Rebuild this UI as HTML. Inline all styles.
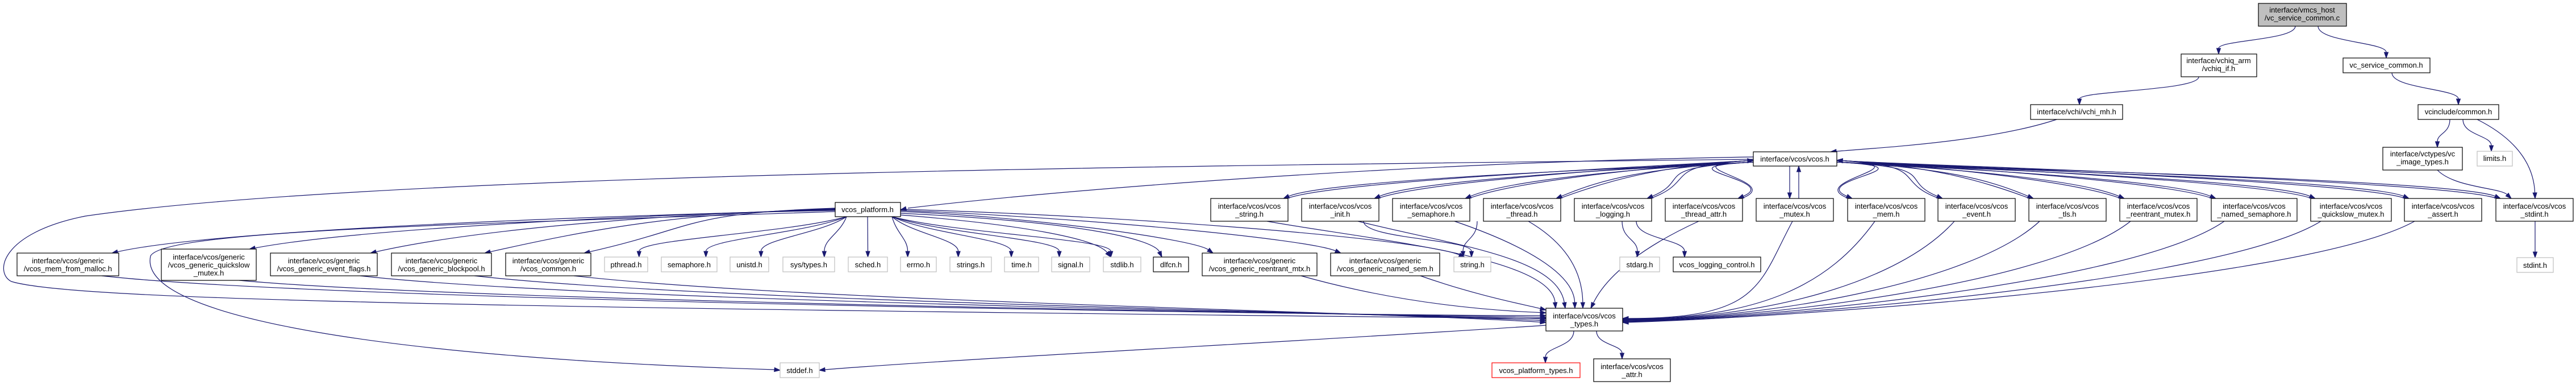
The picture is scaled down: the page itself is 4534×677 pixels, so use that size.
<!DOCTYPE html>
<html><head><meta charset="utf-8"><style>
html,body{margin:0;padding:0;background:#fff;width:4534px;height:677px;overflow:hidden}
svg text{font-family:"Liberation Sans",Arial,sans-serif;font-size:13px;fill:#000;text-anchor:middle}
</style></head><body>
<svg id="g" width="4534" height="677" viewBox="0 0 4534 677" xmlns="http://www.w3.org/2000/svg">
<g id="edges" fill="none" stroke="#191970" stroke-width="1.2"></g>
<g id="heads" fill="#191970" stroke="#191970"></g>
<g id="nodes" stroke-width="1.2">
<rect x="3975" y="6" width="155" height="40" fill="#bfbfbf" stroke="#000"/><text x="4052" y="22">interface/vmcs_host</text><text x="4052" y="36">/vc_service_common.c</text>
<rect x="3839" y="95" width="133" height="40" fill="#fff" stroke="#000"/><text x="3905" y="111">interface/vchiq_arm</text><text x="3905" y="125">/vchiq_if.h</text>
<rect x="4124" y="102" width="153" height="26" fill="#fff" stroke="#000"/><text x="4200" y="119">vc_service_common.h</text>
<rect x="3574" y="184" width="162" height="26" fill="#fff" stroke="#000"/><text x="3655" y="201">interface/vchi/vchi_mh.h</text>
<rect x="4256" y="184" width="142" height="26" fill="#fff" stroke="#000"/><text x="4327" y="201">vcinclude/common.h</text>
<rect x="3086" y="267" width="147" height="25" fill="#fff" stroke="#000"/><text x="3159" y="284">interface/vcos/vcos.h</text>
<rect x="4194" y="259" width="140" height="40" fill="#fff" stroke="#000"/><text x="4264" y="275">interface/vctypes/vc</text><text x="4264" y="289">_image_types.h</text>
<rect x="4360" y="266" width="62" height="26" fill="#fff" stroke="#bfbfbf"/><text x="4391" y="283">limits.h</text>
<rect x="1470" y="356" width="115" height="25" fill="#fff" stroke="#000"/><text x="1527" y="373">vcos_platform.h</text>
</g>
</svg>
<script>
var NS="http://www.w3.org/2000/svg";
var nodes=document.getElementById('nodes'),edges=document.getElementById('edges'),heads=document.getElementById('heads');
function box(x,y,w,h,lines,stroke){var r=document.createElementNS(NS,'rect');r.setAttribute('x',x);r.setAttribute('y',y);r.setAttribute('width',w);r.setAttribute('height',h);r.setAttribute('fill','#fff');r.setAttribute('stroke',stroke||'#000');nodes.appendChild(r);
var n=lines.length;var y0=y+h/2-(n-1)*7+5;for(var i=0;i<n;i++){var t=document.createElementNS(NS,'text');t.setAttribute('x',x+w/2);t.setAttribute('y',y0+i*14);t.textContent=lines[i];nodes.appendChild(t);}}
function cub(x1,y1,a,b,c,d,x2,y2){var dx=x2-c,dy=y2-d,L=Math.hypot(dx,dy)||1,ux=dx/L,uy=dy/L;var bx=x2-10*ux,by=y2-10*uy;
var p=document.createElementNS(NS,'path');p.setAttribute('d','M'+x1+','+y1+' C'+a+','+b+' '+c+','+d+' '+bx+','+by);edges.appendChild(p);
var q=document.createElementNS(NS,'polygon');q.setAttribute('points',x2+','+y2+' '+(bx-3.5*uy)+','+(by+3.5*ux)+' '+(bx+3.5*uy)+','+(by-3.5*ux));heads.appendChild(q);}
function v(x1,y1,x2,y2){var m=(y2-y1)/2;cub(x1,y1,x1,y1+m,x2,y2-m,x2,y2);}
function raw(d,x2,y2,c,dd){var p=document.createElementNS(NS,'path');p.setAttribute('d',d);edges.appendChild(p);var dx=x2-c,dy=y2-dd,L=Math.hypot(dx,dy),ux=dx/L,uy=dy/L,bx=x2-10*ux,by=y2-10*uy;var q=document.createElementNS(NS,'polygon');q.setAttribute('points',x2+','+y2+' '+(bx-3.5*uy)+','+(by+3.5*ux)+' '+(bx+3.5*uy)+','+(by-3.5*ux));heads.appendChild(q);}
// row2 vcos_* headers
var r2=[[2131,'_string.h'],[2291,'_init.h'],[2451,'_semaphore.h'],[2611,'_thread.h'],[2771,'_logging.h'],[2931,'_thread_attr.h'],[3091,'_mutex.h'],[3252,'_mem.h'],[3411,'_event.h'],[3571,'_tls.h'],[3731,'_reentrant_mutex.h'],[3892,'_named_semaphore.h',151],[4067,'_quickslow_mutex.h',142],[4232,'_assert.h'],[4393,'_stdint.h']];
r2.forEach(function(r){box(r[0],349,r[2]||136,40,['interface/vcos/vcos',r[1]]);});
// row3
box(30,445,179,40,['interface/vcos/generic','/vcos_mem_from_malloc.h']);
box(284,438,167,55,['interface/vcos/generic','/vcos_generic_quickslow','_mutex.h']);
box(476,445,188,40,['interface/vcos/generic','/vcos_generic_event_flags.h']);
box(689,445,176,40,['interface/vcos/generic','/vcos_generic_blockpool.h']);
box(890,445,150,40,['interface/vcos/generic','/vcos_common.h']);
var sys=[[1064,76,'pthread.h'],[1164,98,'semaphore.h'],[1285,68,'unistd.h'],[1378,91,'sys/types.h'],[1493,69,'sched.h'],[1585,63,'errno.h'],[1672,73,'strings.h'],[1768,60,'time.h'],[1851,67,'signal.h'],[1942,66,'stdlib.h']];
sys.forEach(function(s){box(s[0],452,s[1],26,[s[2]],'#bfbfbf');});
box(2030,452,62,26,['dlfcn.h']);
box(2116,445,202,40,['interface/vcos/generic','/vcos_generic_reentrant_mtx.h']);
box(2342,445,192,40,['interface/vcos/generic','/vcos_generic_named_sem.h']);
box(2559,452,65,26,['string.h'],'#bfbfbf');
box(2851,452,70,26,['stdarg.h'],'#bfbfbf');
box(2945,452,154,26,['vcos_logging_control.h']);
box(4430,453,64,26,['stdint.h'],'#bfbfbf');
box(2721,542,135,40,['interface/vcos/vcos','_types.h']);
box(1373,638,69,26,['stddef.h'],'#bfbfbf');
box(2626,638,155,26,['vcos_platform_types.h'],'#ff0000');
box(2805,631,135,40,['interface/vcos/vcos','_attr.h']);
// top edges
v(4040,46,3905,95);v(4080,46,4200,102);
v(3870,135,3660,184);cub(3620,210,3500,250,3300,260,3222,267);
v(4210,128,4327,184);
v(4312,210,4290,259);v(4335,210,4385,266);cub(4360,210,4440,250,4460,300,4462,349);
cub(4290,299,4320,330,4400,330,4420,349);
v(4462,389,4462,453);
// vcos <-> row2
r2.forEach(function(r){var w=r[2]||136,x1=r[0],x2=x1+w,cx=x1+w/2;
 if(x2<3086){var t=x2-8;cub(3086,285,2900,295,t+80,315,t,349);cub(t+6,349,t+90,318,2920,292,3086,282);}
 else if(x1>3233){var t=x1+8;cub(3233,285,3420,295,t-80,315,t,349);cub(t-6,349,t-90,318,3400,292,3233,282);}
 else {v(3150,292,3150,349);v(3166,349,3166,292);}
});
raw('M3086,276 C2500,285 1900,330 1598,366',1585,369,1598,366);
// vcos -> types big loop
raw('M3086,280 C2300,290 700,300 150,380 C0,410 -10,480 20,495 C120,525 700,540 2710,560',2721,560,2710,560);
// platform -> stddef
raw('M1470,372 C800,395 290,405 265,450 C240,560 700,630 1363,650',1373,651,1363,650);
raw('M2721,572 C2300,600 1700,630 1452,650',1442,651,1452,650);
// platform -> row3 left generics
[[30,209],[284,451],[476,664],[689,865],[890,1040]].forEach(function(b,i){var t=b[1]-12,ty=(i==1?438:445);cub(1470,370-i,1200,375,t+200,400,t,ty);
 var sx=b[1]-30,sy=(i==1?493:485);cub(sx,sy,sx+400,530,2400,555-i*2,2721,555+i*3);});
sys.forEach(function(s){var c=s[0]+s[1]/2,t=c<1500?s[0]+s[1]*0.8:(c>1560?s[0]+s[1]*0.2:c);var sx=1527+(c-1527)*0.08;var sy=381;if(c<1470){sx=1490;} if(c>1585){sx=1570;}
 cub(sx,sy,sx+(t-sx)*0.3,sy+30,t,420,t,452);});
cub(1585,375,1900,390,2030,420,2045,452);
cub(1585,372,1800,380,2100,420,2135,445);
cub(1585,370,1900,382,2300,420,2360,445);
cub(1585,368,2000,380,2500,420,2578,452);
cub(1585,378,1800,395,1930,420,1955,452);
cub(2290,485,2450,530,2600,545,2721,550);
cub(2500,485,2600,520,2680,535,2721,545);
// row2 -> types
cub(2230,389,2400,420,2730,450,2738,542);
cub(2390,389,2550,430,2740,450,2755,542);
cub(2560,389,2680,430,2770,480,2772,542);
cub(2690,389,2760,430,2785,480,2786,542);
v(2600,389,2575,452);v(2400,389,2590,452);
v(2855,389,2882,452);v(2880,389,2965,452);
cub(2990,389,2900,430,2830,480,2800,542);
[[3155],[3300],[3440],[3590],[3750],[3915],[4085],[4250]].forEach(function(a,i){var x=a[0];cub(x,389,x-60-i*20,500,3100,560,2856,560+i);});
v(2770,582,2720,638);v(2810,582,2855,631);
</script>
</body></html>
